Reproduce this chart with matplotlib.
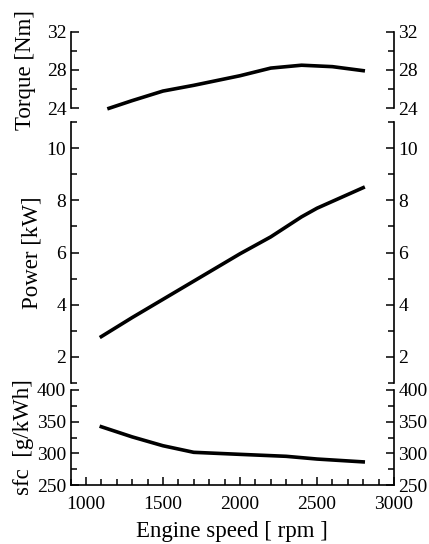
import matplotlib
matplotlib.use("Agg")
import matplotlib.pyplot as plt
from matplotlib.ticker import MultipleLocator

plt.rcParams['font.family'] = ['Liberation Serif', 'DejaVu Serif']
plt.rcParams['font.size'] = 14

# Data
torque_rpm = [1150, 1300, 1500, 1700, 2000, 2200, 2400, 2600, 2800]
torque_nm = [24.0, 24.8, 25.8, 26.4, 27.4, 28.2, 28.5, 28.35, 27.93]

power_rpm = [1100, 1300, 1500, 1700, 2000, 2200, 2400, 2500, 2800]
power_kw = [2.77, 3.5, 4.2, 4.9, 5.95, 6.6, 7.37, 7.7, 8.49]

sfc_rpm = [1100, 1300, 1500, 1700, 2000, 2300, 2500, 2800]
sfc_val = [342, 326, 312, 301.6, 298.4, 295.3, 291, 286.5]

W, H = 429, 544
fig = plt.figure(figsize=(W / 100, H / 100), dpi=100)

def rect(left, top, right, bottom):
    return [left / W, 1 - bottom / H, (right - left) / W, (bottom - top) / H]

axL, axR = 70.5, 394
ax1 = fig.add_axes(rect(axL, 31.7, axR, 108.3))
ax2 = fig.add_axes(rect(axL, 122.3, axR, 382.7), sharex=ax1)
ax3 = fig.add_axes(rect(axL, 390, axR, 485), sharex=ax1)

lw = 2.6
ax1.plot(torque_rpm, torque_nm, color='black', lw=lw, clip_on=False)
ax2.plot(power_rpm, power_kw, color='black', lw=lw, clip_on=False)
ax3.plot(sfc_rpm, sfc_val, color='black', lw=lw, clip_on=False)

ax1.set_ylim(24, 32)
ax1.yaxis.set_major_locator(MultipleLocator(4))
ax1.yaxis.set_minor_locator(MultipleLocator(2))
ax2.set_ylim(1, 11)
ax2.yaxis.set_major_locator(MultipleLocator(2))
ax2.yaxis.set_minor_locator(MultipleLocator(1))
ax3.set_ylim(250, 400)
ax3.yaxis.set_major_locator(MultipleLocator(50))
ax3.yaxis.set_minor_locator(MultipleLocator(25))

ax3.set_xlim(900, 3000)
ax3.xaxis.set_major_locator(MultipleLocator(500))
ax3.xaxis.set_minor_locator(MultipleLocator(100))

for ax in (ax1, ax2, ax3):
    ax.set_facecolor('none')
    ax.spines['top'].set_visible(False)
    for s in ('left', 'right', 'bottom'):
        ax.spines[s].set_linewidth(1.2)
    ax.tick_params(axis='y', which='both', direction='in', left=True, right=True,
                   labelleft=True, labelright=True, width=1.1, pad=3)
    ax.tick_params(axis='y', which='major', length=5.5)
    ax.tick_params(axis='y', which='minor', length=4.5)

for ax in (ax1, ax2):
    ax.spines['bottom'].set_visible(False)
    ax.tick_params(axis='x', which='both', bottom=False, labelbottom=False)

ax3.tick_params(axis='x', which='both', direction='in', bottom=True, top=False,
                width=1.1, pad=8)
ax3.tick_params(axis='x', which='major', length=6)
ax3.tick_params(axis='x', which='minor', length=4.2)

lab_fs = 16.5
ax1.set_ylabel('Torque [Nm]', va='center', fontsize=lab_fs)
ax1.yaxis.set_label_coords((25 - axL) / (axR - axL), 0.5)
ax2.set_ylabel('Power [kW]', va='center', fontsize=lab_fs)
ax2.yaxis.set_label_coords((32 - axL) / (axR - axL), 0.5)
ax3.set_ylabel('sfc  [g/kWh]', va='center', fontsize=lab_fs)
ax3.yaxis.set_label_coords((23.5 - axL) / (axR - axL), 0.5)
ax3.set_xlabel('Engine speed [ rpm ]', fontsize=lab_fs, labelpad=6)

fig.savefig('out.png', dpi=100)
